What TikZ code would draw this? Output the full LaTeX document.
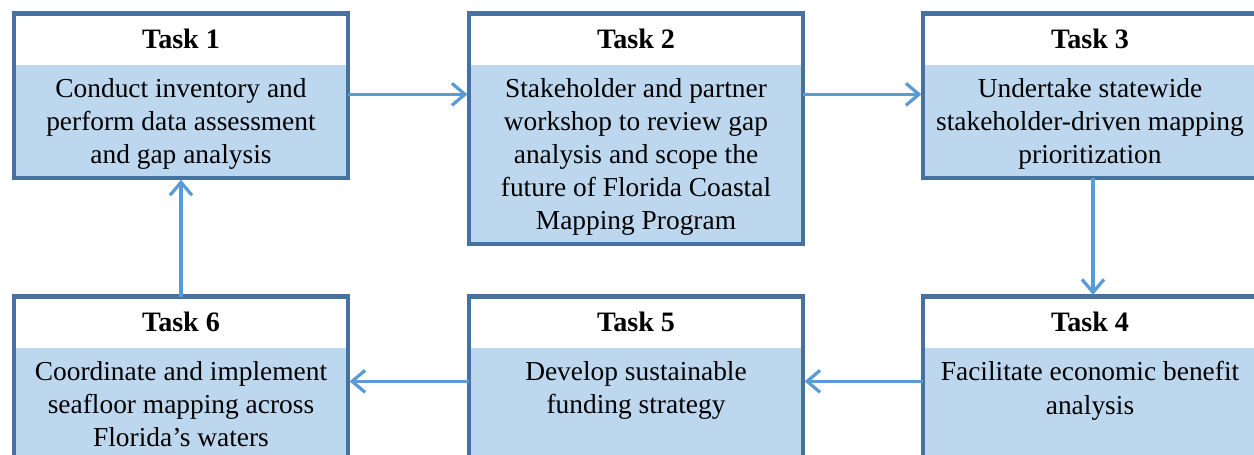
\documentclass[tikz,border=0pt]{standalone}
\usepackage{fontspec}
\setmainfont{Liberation Serif}
\usetikzlibrary{positioning,arrows.meta}

\definecolor{framecol}{HTML}{47719F}
\definecolor{bodycol}{HTML}{BDD7EE}
\definecolor{arrowcol}{HTML}{5B9BD5}

\begin{document}
\begin{tikzpicture}[x=0.02cm, y=-0.02cm,
  head/.style={fill=white, minimum width=6.66cm, minimum height=1cm, inner sep=0pt,
    font=\fontsize{16}{19}\selectfont\bfseries},
  bodybox/.style={fill=bodycol, minimum width=6.66cm, inner sep=0pt},
  bodytext/.style={align=center, inner sep=0pt, font=\fontsize{15.6}{18.8}\selectfont},
  frame/.style={draw=framecol, line width=0.09cm},
  arr/.style={arrowcol, line width=0.065cm, shorten >=1pt,
    -{Straight Barb[length=0.26cm, width=0.44cm]}}]

\useasboundingbox (0,0) rectangle (1254,455);
\clip (0,0) rectangle (1254,455);

\node[head] (h1) at (181,39) {Task 1};
\node[bodybox, minimum height=2.26cm, below=0pt of h1] (b1) {};
\node[bodytext, below=0.28cm of b1.north] (d1) {Conduct inventory and\\perform data assessment\\and gap analysis};
\draw[frame] (h1.north west) rectangle (b1.south east);

\node[head] (h2) at (636,39) {Task 2};
\node[bodybox, minimum height=3.58cm, below=0pt of h2] (b2) {};
\node[bodytext, below=0.28cm of b2.north] (d2) {Stakeholder and partner\\workshop to review gap\\analysis and scope the\\future of Florida Coastal\\Mapping Program};
\draw[frame] (h2.north west) rectangle (b2.south east);

\node[head] (h3) at (1090,39) {Task 3};
\node[bodybox, minimum height=2.26cm, below=0pt of h3] (b3) {};
\node[bodytext, below=0.28cm of b3.north] (d3) {Undertake statewide\\stakeholder-driven mapping\\prioritization};
\draw[frame] (h3.north west) rectangle (b3.south east);

\node[head] (h4) at (1090,322) {Task 4};
\node[bodybox, minimum height=2.26cm, below=0pt of h4] (b4) {};
\node[bodytext, below=0.28cm of b4.north] (d4) {Facilitate economic benefit\\analysis};
\draw[frame] (h4.north west) rectangle (b4.south east);

\node[head] (h5) at (636,322) {Task 5};
\node[bodybox, minimum height=2.26cm, below=0pt of h5] (b5) {};
\node[bodytext, below=0.28cm of b5.north] (d5) {Develop sustainable\\funding strategy};
\draw[frame] (h5.north west) rectangle (b5.south east);

\node[head] (h6) at (181,322) {Task 6};
\node[bodybox, minimum height=2.26cm, below=0pt of h6] (b6) {};
\node[bodytext, below=0.28cm of b6.north] (d6) {Coordinate and implement\\seafloor mapping across\\Florida’s waters};
\draw[frame] (h6.north west) rectangle (b6.south east);

\draw[arr] ([yshift=-0.6cm]b1.north east) -- ([yshift=-0.6cm]b2.north west);
\draw[arr] ([yshift=-0.6cm]b2.north east) -- ([yshift=-0.6cm]b3.north west);
\draw[arr] ([xshift=0.06cm]b3.south) -- ([xshift=0.06cm]h4.north);
\draw[arr] ([yshift=-0.68cm]b4.north west) -- ([yshift=-0.68cm]b5.north east);
\draw[arr] ([yshift=-0.68cm]b5.north west) -- ([yshift=-0.68cm]b6.north east);
\draw[arr] (h6.north) -- (b1.south);

\end{tikzpicture}
\end{document}
